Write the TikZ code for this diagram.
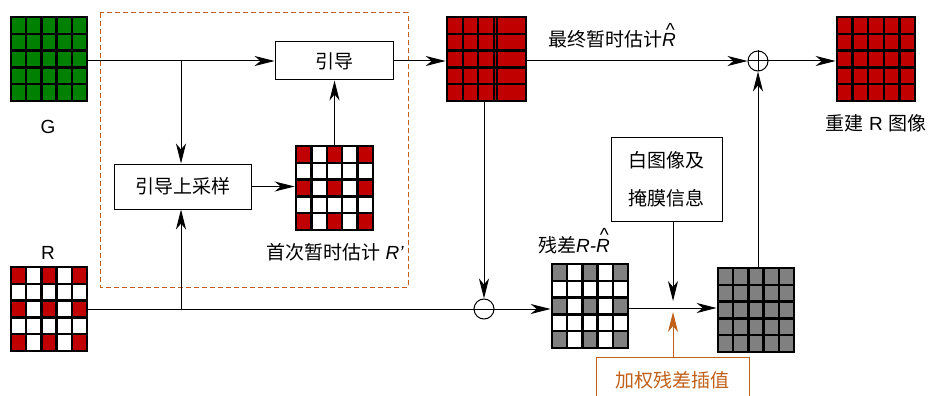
\documentclass[tikz,border=0pt]{standalone}
\usepackage{fontspec}
\setmainfont{Liberation Sans}
\newfontfamily\cjk{Noto Sans CJK SC}
\usetikzlibrary{arrows.meta,calc,fit}
\definecolor{gR}{RGB}{192,0,0}
\definecolor{gG}{RGB}{0,128,0}
\definecolor{gGray}{RGB}{128,128,128}
\definecolor{org}{RGB}{192,96,26}
\newcommand\Rhat{\textit{R}\llap{\raisebox{0.55em}{\textasciicircum}\hspace{0.06em}}}
\newcommand\Grid[7]{%
  \pgfmathsetmacro\gw{(#4-#2)/5}%
  \pgfmathsetmacro\gh{(#5-#3)/5}%
  \fill[#6] (#2,#3) rectangle (#4,#5);
  \foreach \cc in {0,2,4}{\foreach \rr in {0,2,4}{\fill[#7] ({#2+\cc*\gw},{#3+\rr*\gh}) rectangle ++(\gw,\gh);}}
  \foreach \ii in {1,...,4}{\draw[gl] ({#2+\ii*\gw},#3) -- ({#2+\ii*\gw},#5); \draw[gl] (#2,{#3+\ii*\gh}) -- (#4,{#3+\ii*\gh});}
  \node[gridframe, fit={(#2,#3) (#4,#5)}] (#1) {};
}
\tikzset{
  gl/.style={line width=2.4pt, black},
  gridframe/.style={draw, line width=2.6pt, inner sep=0pt},
  ln/.style={line width=1pt},
  arr/.style={line width=1pt, -{Stealth[length=20pt,width=10pt,inset=6pt]}},
  box/.style={draw, line width=1pt, inner sep=0pt, font=\fontsize{19}{23}\selectfont\cjk},
  lbl/.style={inner sep=0pt, font=\fontsize{19}{23}\selectfont},
  opnode/.style={circle, draw, line width=1pt, minimum size=20pt, inner sep=0pt},
}
\begin{document}
\begin{tikzpicture}[x=1pt,y=-1pt]
\useasboundingbox (0,0) rectangle (930,396);
% dashed frame
\draw[org, line width=1pt, dash pattern=on 5pt off 3pt] (100,13) rectangle (408,287);
% grids
\Grid{G}{11}{17}{87}{101}{gG}{gG}
\Grid{R}{11}{267}{87}{351}{white}{gR}
\Grid{Rp}{296}{146}{373}{230}{white}{gR}
\Grid{F}{837}{17}{915}{101}{gR}{gR}
\Grid{Res}{552}{264}{628}{348}{white}{gGray}
\Grid{I}{718}{268}{794}{352}{gGray}{gGray}
% irregular temporary estimate grid
\fill[gR] (447,17) rectangle (526,101);
\foreach \xx in {463,478,494,497} \draw[gl] (\xx,17) -- (\xx,101);
\foreach \ii in {1,...,4} \draw[gl] (447,{17+\ii*16.8}) -- (526,{17+\ii*16.8});
\node[gridframe, fit={(447,17) (526,101)}] (T) {};
% boxes
\node[box, minimum width=118pt, minimum height=38pt] (guide) at (334,61) {引导};
\node[box, minimum width=137pt, minimum height=45pt] (up) at (182.5,186.5) {引导上采样};
\node[box, minimum width=111pt, minimum height=84pt, align=center, font=\fontsize{19}{38}\selectfont\cjk] (mask) at (666.5,179) {白图像及\\掩膜信息};
\node[box, draw=org, text=org, minimum width=153pt, minimum height=46pt] (wri) at (672.5,380) {加权残差插值};
% operators
\node[opnode] (sub) at (484,309) {};
\draw[ln] (sub.west) -- (sub.east);
\node[opnode] (plus) at (758,61) {};
\draw[ln] (plus.west) -- (plus.east) (plus.north) -- (plus.south);
% labels
\node[lbl, anchor=base] (Gl) at (48,133) {G};
\node[lbl, anchor=base] (Rl) at (48,259) {R};
\node[lbl, anchor=base] (Rpl) at (335,259) {{\cjk 首次暂时估计} \textit{R'}};
\node[lbl, anchor=base] (Tl) at (612,47) {{\cjk 最终暂时估计}\Rhat};
\node[lbl, anchor=base] (Resl) at (574,252) {{\cjk 残差}\textit{R-}\Rhat};
\node[lbl, anchor=base] (Fl) at (876,130) {{\cjk 重建} R {\cjk 图像}};
% connectors
\coordinate (br) at (181,61);
\coordinate (br2) at (181,309);
\coordinate (mid) at (673,308);
\draw[arr] (G.east |- guide.west) -- (guide.west);
\draw[arr] (br) -- (br |- up.north);
\draw[ln] (R.east) -- (sub.west);
\draw[arr] (br2) -- (br2 |- up.south);
\draw[arr] (up.east) -- (up.east -| Rp.west);
\draw[arr] (Rp.north) -- (Rp.north |- guide.south);
\draw[arr] (guide.east) -- (guide.east -| T.west);
\draw[arr] (T.east |- plus) -- (plus.west);
\draw[arr] (plus.east) -- (plus.east -| F.west);
\draw[arr] (T.south -| sub) -- (sub.north);
\draw[arr] (sub.east) -- (sub.east -| Res.west);
\draw[arr] (Res.east |- mid) -- (mid -| I.west);
\draw[arr] (mask.south -| mid) -- ($(mid)+(0,-7)$);
\draw[arr, org] (wri.north -| mid) -- ($(mid)+(0,4)$);
\draw[arr] (I.north -| plus) -- (plus.south);
\end{tikzpicture}
\end{document}
